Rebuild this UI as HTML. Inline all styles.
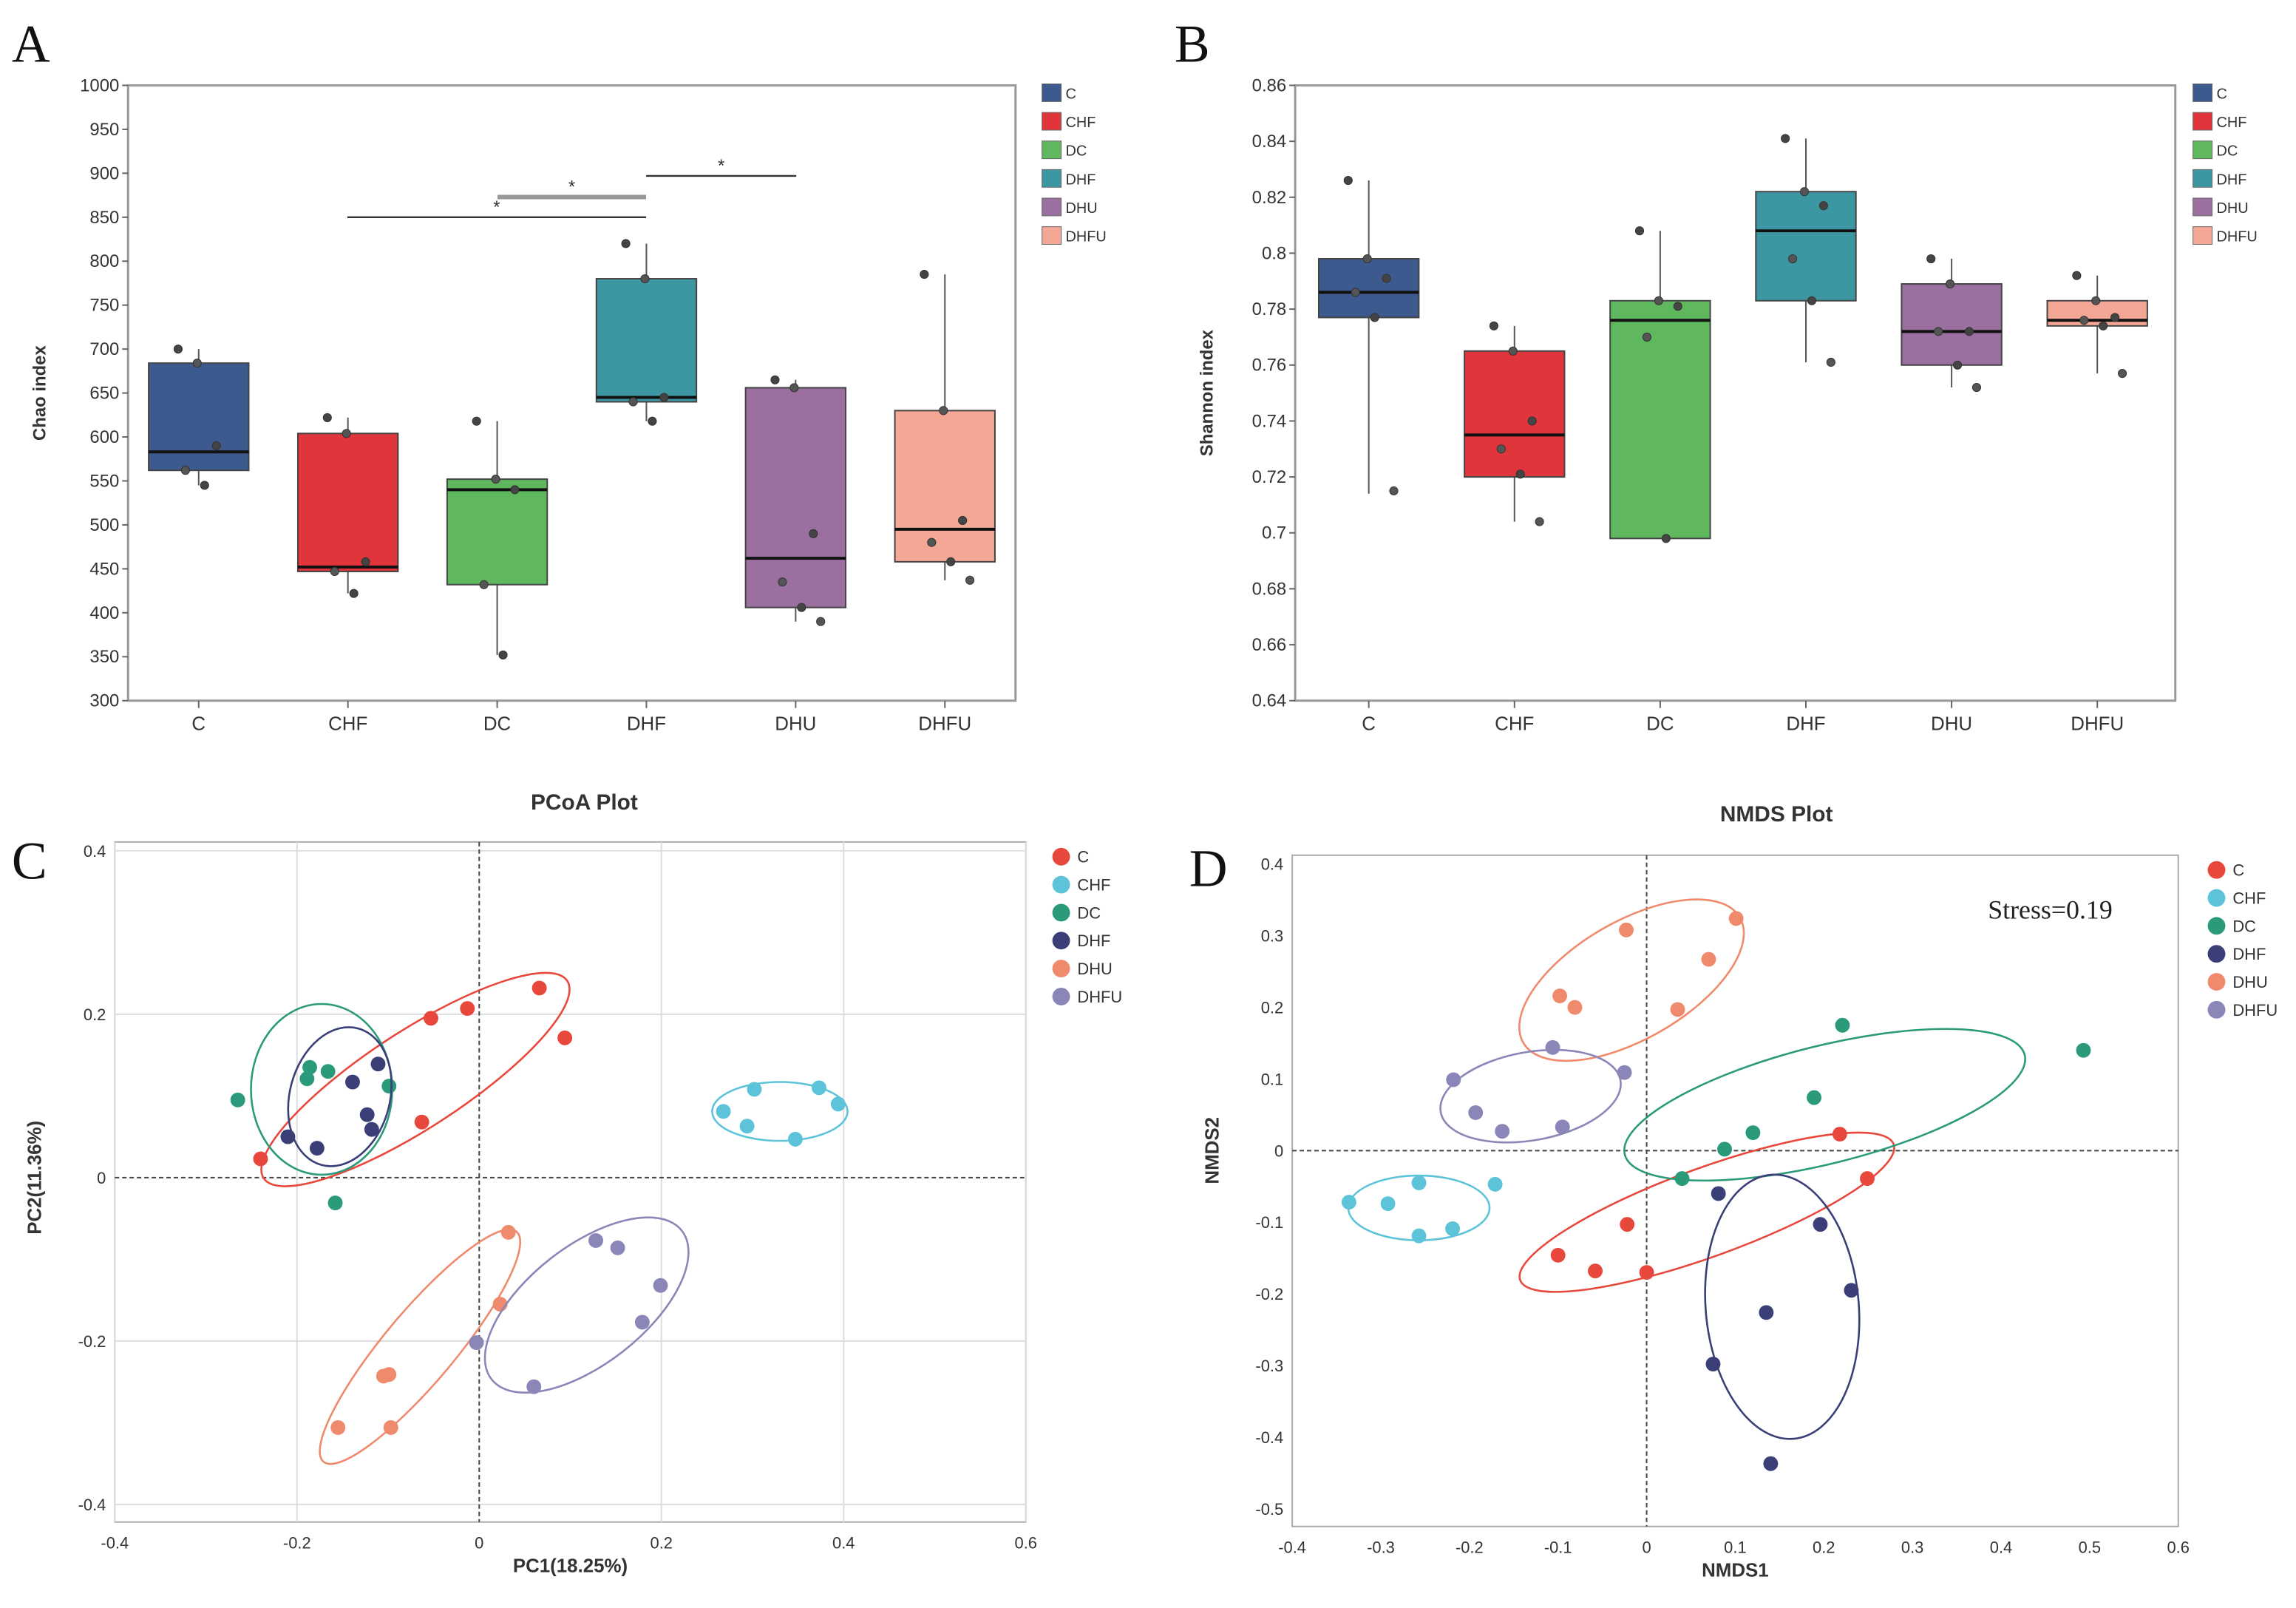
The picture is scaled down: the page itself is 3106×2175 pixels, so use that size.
<!DOCTYPE html>
<html><head><meta charset="utf-8"><style>
html,body{margin:0;padding:0;background:#fff}
svg{display:block}
text{font-family:"Liberation Sans",sans-serif;fill:#333}
</style></head><body>
<svg id="s" width="3106" height="2175" viewBox="0 0 1560 1092.4" preserveAspectRatio="none" xmlns="http://www.w3.org/2000/svg"></svg>
<script>
const groups=["C","CHF","DC","DHF","DHU","DHFU"];
const boxCols=["#3d5a8e","#e0353a","#5fb85e","#3d97a3","#9b70a0","#f5a795"];
const ptCols=["#e8483c","#5cc3d9","#2a9a7a","#3b3f78","#f08a6c","#8a86b8"];
// Panel A: Chao index [whiskerLow, q1, median, q3, whiskerHigh]
const chaoStats=[[545,562,583,684,700],[422,447,452,604,622],[352,432,540,552,618],[618,640,645,780,820],[390,406,462,656,665],[437,458,495,630,785]];
const chaoPts=[[700,684,590,562,545],[622,604,458,447,422],[618,552,540,432,352],[820,780,645,640,618],[665,656,490,435,406,390],[785,630,505,480,458,437]];
const chaoTicks=[300,350,400,450,500,550,600,650,700,750,800,850,900,950,1000];
// Panel B: Shannon
const shanStats=[[0.714,0.777,0.786,0.798,0.826],[0.704,0.720,0.735,0.765,0.774],[0.698,0.698,0.776,0.783,0.808],[0.761,0.783,0.808,0.822,0.841],[0.752,0.760,0.772,0.789,0.798],[0.757,0.774,0.776,0.783,0.792]];
const shanPts=[[0.826,0.798,0.791,0.786,0.777,0.715],[0.774,0.765,0.740,0.730,0.721,0.704],[0.808,0.783,0.781,0.770,0.698],[0.841,0.822,0.817,0.798,0.783,0.761],[0.798,0.789,0.772,0.772,0.760,0.752],[0.792,0.783,0.777,0.776,0.774,0.757]];
const shanTicks=[0.64,0.66,0.68,0.7,0.72,0.74,0.76,0.78,0.8,0.82,0.84,0.86];
// Panel C: PCoA
const pcoaX=[[-0.24,-0.063,-0.053,-0.013,0.066,0.094],[0.268,0.302,0.294,0.347,0.373,0.394],[-0.265,-0.186,-0.189,-0.166,-0.099,-0.158],[-0.21,-0.178,-0.139,-0.123,-0.111,-0.118],[-0.155,-0.099,-0.105,-0.097,0.023,0.032],[-0.003,0.06,0.128,0.152,0.179,0.199]];
const pcoaY=[[0.023,0.068,0.195,0.207,0.232,0.171],[0.081,0.108,0.063,0.047,0.11,0.09],[0.095,0.135,0.121,0.13,0.112,-0.031],[0.05,0.036,0.117,0.077,0.139,0.059],[-0.306,-0.241,-0.243,-0.306,-0.155,-0.067],[-0.202,-0.256,-0.077,-0.086,-0.177,-0.132]];
const pcoaEll=[[-0.07,0.12,123,33,-33],[0.33,0.081,46,20,0],[-0.173,0.108,48,58,0],[-0.153,0.099,34,48,15],[-0.065,-0.207,102,24,-50],[0.118,-0.156,82,40,-38]];
const pcoaXT=[-0.4,-0.2,0,0.2,0.4,0.6], pcoaYT=[-0.4,-0.2,0,0.2,0.4];
// Panel D: NMDS
const nmdsX=[[-0.1,-0.058,-0.022,0,0.218,0.249],[-0.336,-0.292,-0.257,-0.257,-0.219,-0.171],[0.04,0.088,0.12,0.189,0.221,0.493],[0.081,0.196,0.231,0.135,0.075,0.14],[-0.098,-0.081,-0.023,0.035,0.07,0.101],[-0.218,-0.193,-0.163,-0.106,-0.095,-0.025]];
const nmdsY=[[-0.146,-0.168,-0.103,-0.17,0.023,-0.039],[-0.072,-0.074,-0.045,-0.119,-0.109,-0.047],[-0.039,0.002,0.025,0.074,0.175,0.14],[-0.06,-0.103,-0.195,-0.226,-0.298,-0.437],[0.216,0.2,0.308,0.197,0.267,0.324],[0.099,0.053,0.027,0.144,0.033,0.109]];
const nmdsEll=[[0.068,-0.086,135,30,-20],[-0.257,-0.08,48,22,0],[0.201,0.064,140,40,-14],[0.153,-0.218,52,90,-5],[-0.017,0.238,85,40,-30],[-0.131,0.076,62,30,-10]];
const nmdsXT=[-0.4,-0.3,-0.2,-0.1,0,0.1,0.2,0.3,0.4,0.5,0.6], nmdsYT=[-0.5,-0.4,-0.3,-0.2,-0.1,0,0.1,0.2,0.3,0.4];

const S=document.getElementById('s');const NS="http://www.w3.org/2000/svg";
function el(tag,a,name,txt){const e=document.createElementNS(NS,tag);for(const k in a)e.setAttribute(k,a[k]);


if(txt!==undefined)e.textContent=txt;S.appendChild(e);return e;}
function lin(d0,d1,p0,p1){return v=>p0+(v-d0)*(p1-p0)/(d1-d0);}

[["A",8,42],["B",798,42],["C",8,597],["D",808,602]].forEach(l=>el('text',{x:l[1],y:l[2],'font-size':36,style:'font-family:"Liberation Serif",serif;fill:#111'},'panel-letter-'+l[0].toLowerCase(),l[0]));

function boxPanel(pref,x0,x1,y0,y1,dmin,dmax,ticks,stats,pts,fmt,ylab,cx0,step,legX){
  const y=lin(dmin,dmax,y1,y0);
  el('rect',{x:x0,y:y0,width:x1-x0,height:y1-y0,fill:'none',stroke:'#999','stroke-width':1.5},pref+'-plot-frame');
  ticks.forEach(t=>{el('line',{x1:x0-4,x2:x0,y1:y(t),y2:y(t),stroke:'#666'},pref+'-y-tick');
    el('text',{x:x0-6,y:y(t)+4,'font-size':12,'text-anchor':'end'},pref+'-y-tick-label',fmt(t));});
  el('text',{transform:`translate(${x0-56},${(y0+y1)/2}) rotate(-90)`,'font-size':12,'font-weight':'bold','text-anchor':'middle'},pref+'-y-axis-title',ylab);
  groups.forEach((g,i)=>{const cx=cx0+i*step,s=stats[i],w=34;
    el('line',{x1:cx,x2:cx,y1:y(s[0]),y2:y(s[4]),stroke:'#555'},pref+'-whisker-'+g.toLowerCase());
    el('rect',{x:cx-w,y:y(s[3]),width:2*w,height:y(s[1])-y(s[3]),fill:boxCols[i],stroke:'#444','stroke-width':1},pref+'-box-'+g.toLowerCase());
    el('line',{x1:cx-w,x2:cx+w,y1:y(s[2]),y2:y(s[2]),stroke:'#111','stroke-width':2},pref+'-median-'+g.toLowerCase());
    pts[i].forEach((v,j)=>el('circle',{cx:cx+((j*13)%34)-14,cy:y(v),r:2.8,fill:j%2?'#555':'#444',stroke:'#333','stroke-width':0.5},pref+'-point-'+g.toLowerCase()));
    el('line',{x1:cx,x2:cx,y1:y1,y2:y1+5,stroke:'#666'},pref+'-x-tick');
    el('text',{x:cx,y:y1+20,'font-size':13,'text-anchor':'middle'},pref+'-x-tick-label',g);
    el('rect',{x:legX,y:57+i*19.4,width:13,height:12,fill:boxCols[i],stroke:'#666','stroke-width':0.5},pref+'-legend-swatch-'+g.toLowerCase());
    el('text',{x:legX+16,y:67+i*19.4,'font-size':10},pref+'-legend-label-'+g.toLowerCase(),g);
  });
  return y;
}
const yA=boxPanel('chao',87,690,58,476,300,1000,chaoTicks,chaoStats,chaoPts,t=>t,'Chao index',135,101.4,708);
[[236,439,850,'#333',1.2],[338,439,873,'#999',3],[439,541,897,'#333',1.2]].forEach((b,k)=>{
  el('line',{x1:b[0],x2:b[1],y1:yA(b[2]),y2:yA(b[2]),stroke:b[3],'stroke-width':b[4]},'significance-bar-'+(k+1));
  el('text',{x:(b[0]+b[1])/2,y:yA(b[2])-3,'font-size':12,'text-anchor':'middle'},'significance-star-'+(k+1),'*');});
boxPanel('shannon',880,1478,58,476,0.64,0.86,shanTicks,shanStats,shanPts,t=>String(+t.toFixed(2)),'Shannon index',930,99,1490);

function scatter(pref,x0,x1,y0,y1,xd,yd,xt,yt,X,Y,E,title,tx,ty,xl,yl,legX,legY){
  const sx=lin(xd[0],xd[1],x0,x1),sy=lin(yd[0],yd[1],y1,y0);
  el('rect',{x:x0,y:y0-6,width:x1-x0,height:y1-y0+18,fill:'none',stroke:'#aaa','stroke-width':1},pref+'-plot-frame');
  xt.forEach(t=>{if(pref==='pcoa'&&t!==0)el('line',{x1:sx(t),x2:sx(t),y1:y0-6,y2:y1+12,stroke:'#ddd'},pref+'-x-grid');
    el('text',{x:sx(t),y:y1+30,'font-size':11,'text-anchor':'middle'},pref+'-x-tick-label',String(+t.toFixed(1)));});
  yt.forEach(t=>{if(pref==='pcoa'&&t!==0)el('line',{x1:x0,x2:x1,y1:sy(t),y2:sy(t),stroke:'#ddd'},pref+'-y-grid');
    el('text',{x:x0-6,y:sy(t)+4,'font-size':11,'text-anchor':'end'},pref+'-y-tick-label',String(+t.toFixed(1)));});
  el('line',{x1:sx(0),x2:sx(0),y1:y0-6,y2:y1+12,stroke:'#444','stroke-dasharray':'3,2'},pref+'-zero-line-x');
  el('line',{x1:x0,x2:x1,y1:sy(0),y2:sy(0),stroke:'#444','stroke-dasharray':'3,2'},pref+'-zero-line-y');
  groups.forEach((g,i)=>{const e=E[i];
    el('ellipse',{cx:sx(e[0]),cy:sy(e[1]),rx:e[2],ry:e[3],transform:`rotate(${e[4]} ${sx(e[0])} ${sy(e[1])})`,fill:'none',stroke:ptCols[i],'stroke-width':1.3},pref+'-ellipse-'+g.toLowerCase());
    X[i].forEach((v,j)=>el('circle',{cx:sx(v),cy:sy(Y[i][j]),r:5,fill:ptCols[i]},pref+'-point-'+g.toLowerCase()));
    el('circle',{cx:legX,cy:legY+i*19,r:6,fill:ptCols[i]},pref+'-legend-marker-'+g.toLowerCase());
    el('text',{x:legX+11,y:legY+4+i*19,'font-size':11},pref+'-legend-label-'+g.toLowerCase(),g);});
  el('text',{x:tx,y:ty,'font-size':15,'font-weight':'bold','text-anchor':'middle'},pref+'-title',title);
  el('text',{x:(x0+x1)/2,y:y1+46,'font-size':13,'font-weight':'bold','text-anchor':'middle'},pref+'-x-axis-title',xl);
  el('text',{transform:`translate(${x0-50},${sy(0)}) rotate(-90)`,'font-size':13,'font-weight':'bold','text-anchor':'middle'},pref+'-y-axis-title',yl);
}
scatter('pcoa',78,697,578,1022,[-0.4,0.6],[-0.4,0.4],pcoaXT,pcoaYT,pcoaX,pcoaY,pcoaEll,'PCoA Plot',397,550,'PC1(18.25%)','PC2(11.36%)',721,582);
scatter('nmds',878,1480,587,1025,[-0.4,0.6],[-0.5,0.4],nmdsXT,nmdsYT,nmdsX,nmdsY,nmdsEll,'NMDS Plot',1207,558,'NMDS1','NMDS2',1506,591);
el('text',{x:1393,y:624,'font-size':18,style:'font-family:"Liberation Serif",serif;fill:#222','text-anchor':'middle'},'stress-annotation','Stress=0.19');
</script>
</body></html>
